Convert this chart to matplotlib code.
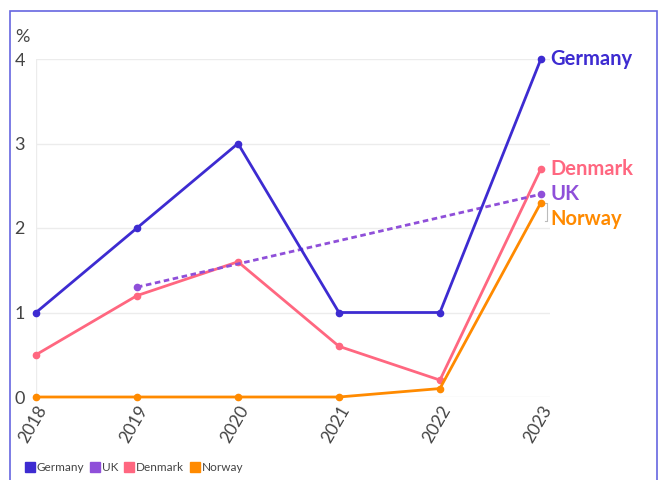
import matplotlib.pyplot as plt
from matplotlib.patches import Rectangle
from matplotlib.lines import Line2D

plt.rcParams['font.family'] = ['Lato', 'DejaVu Sans']

# Yearly values (%)
years = [2018, 2019, 2020, 2021, 2022, 2023]
germany = [1, 2, 3, 1, 1, 4]
denmark = [0.5, 1.2, 1.6, 0.6, 0.2, 2.7]
norway = [0, 0, 0, 0, 0.1, 2.3]
uk_years = [2019, 2023]
uk = [1.3, 2.4]

c_ger = '#3d2bd1'
c_uk = '#8f4fd9'
c_den = '#ff6780'
c_nor = '#ff8a00'

fig = plt.figure(figsize=(6.59, 4.8), dpi=100)
ax = fig.add_axes([36 / 659, 1 - 397 / 480, (550 - 36) / 659, (397 - 59) / 480])

# frame around the chart
fig.patches.append(Rectangle((10 / 659, -0.1), (657 - 10) / 659, 1.1 - 11 / 480,
                             transform=fig.transFigure, fill=False,
                             edgecolor='#6666e0', linewidth=1.2))

ax.plot(years, germany, color=c_ger, lw=2, marker='o', ms=4.5, clip_on=False, zorder=4)
ax.plot(years, denmark, color=c_den, lw=2, marker='o', ms=4.5, clip_on=False, zorder=3)
ax.plot(years, norway, color=c_nor, lw=2, marker='o', ms=4.5, clip_on=False, zorder=5)
ax.plot(uk_years, uk, color=c_uk, lw=2, ls=(0, (2, 1.3)), marker='o', ms=4.5,
        clip_on=False, zorder=3)

ax.set_xlim(2018, 2023.09)
ax.set_ylim(0, 4)
ax.set_yticks([0, 1, 2, 3, 4])
ax.set_xticks(years)
ax.set_xticklabels([str(y) for y in years], rotation=60, ha='right',
                   rotation_mode='anchor', fontsize=12.5, color='#444444')
ax.tick_params(axis='x', length=0, pad=4)
ax.tick_params(axis='y', length=0, pad=8, labelsize=13, labelcolor='#444444')
ax.grid(axis='y', color='#ececec', lw=1)
for s in ax.spines.values():
    s.set_visible(False)
ax.axvline(2018, color='#ececec', lw=1, zorder=0)

ax.text(-0.04, 1.04, '%', transform=ax.transAxes, fontsize=13, color='#444444',
        ha='left', va='bottom')

# end-of-line labels
ends = [('Germany', 4, c_ger, 0), ('Denmark', 2.7, c_den, 0),
        ('UK', 2.4, c_uk, 0), ('Norway', 2.3, c_nor, -12)]
for name, val, col, dy in ends:
    ax.annotate(name, (2023, val), xytext=(7, dy), textcoords='offset points',
                fontsize=14.5, fontweight='bold', color=col, va='center', ha='left',
                annotation_clip=False)
ax.plot([2023.04, 2023.06, 2023.06, 2023.04], [2.3, 2.3, 2.08, 2.08],
        color='#bbbbbb', lw=0.8, clip_on=False)

handles = [Line2D([], [], marker='s', ls='', ms=7.5, color=c) for c in (c_ger, c_uk, c_den, c_nor)]
fig.legend(handles, ['Germany', 'UK', 'Denmark', 'Norway'], loc='lower left',
           bbox_to_anchor=(14 / 659, -0.008), ncol=4, frameon=False, fontsize=8.5,
           handletextpad=0.1, columnspacing=0.5, handlelength=0.9,
           labelcolor='#444444')

fig.savefig('out.png', dpi=100)
